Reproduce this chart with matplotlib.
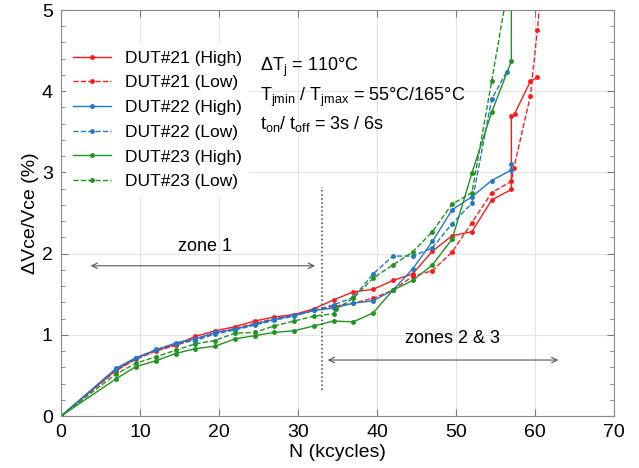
import matplotlib
matplotlib.use('Agg')
from matplotlib import pyplot as plt
from matplotlib.ticker import MultipleLocator

plt.rcParams['font.family'] = ['Liberation Sans', 'DejaVu Sans']
plt.rcParams['mathtext.fontset'] = 'custom'
plt.rcParams['mathtext.rm'] = 'Liberation Sans'
plt.rcParams['mathtext.it'] = 'Liberation Sans'

# kcycles and dVce/Vce (%) for each DUT, high and low current measurement
n_21h = [0, 7, 9.5, 12, 14.5, 17, 19.5, 22, 24.5, 27, 29.5, 32, 34.5, 37, 39.5, 42, 44.5, 47, 49.5, 52, 54.5, 57, 57, 57.4, 59.4, 60.3]
v_21h = [0, 0.57, 0.71, 0.81, 0.88, 0.98, 1.05, 1.10, 1.17, 1.22, 1.25, 1.32, 1.43, 1.53, 1.56, 1.67, 1.75, 2.03, 2.22, 2.27, 2.66, 2.79, 3.69, 3.72, 4.12, 4.17]

n_21l = [0, 7, 9.5, 12, 14.5, 17, 19.5, 22, 24.5, 27, 29.5, 32, 34.5, 37, 39.5, 42, 44.5, 47, 49.5, 52, 54.5, 57, 57.3, 59.4, 60.3, 60.8]
v_21l = [0, 0.56, 0.70, 0.80, 0.87, 0.95, 1.02, 1.08, 1.14, 1.20, 1.25, 1.30, 1.35, 1.39, 1.45, 1.55, 1.72, 1.79, 2.02, 2.38, 2.75, 2.89, 3.05, 3.94, 4.76, 5.3]

n_22h = [0, 7, 9.5, 12, 14.5, 17, 19.5, 22, 24.5, 27, 29.5, 32, 34.5, 37, 39.5, 42, 44.5, 47, 49.5, 52, 54.5, 57, 57]
v_22h = [0, 0.59, 0.72, 0.81, 0.90, 0.95, 1.03, 1.07, 1.13, 1.19, 1.24, 1.30, 1.33, 1.39, 1.42, 1.55, 1.81, 2.15, 2.54, 2.70, 2.90, 3.03, 3.10]

n_22l = [0, 7, 9.5, 12, 14.5, 17, 19.5, 22, 24.5, 27, 29.5, 32, 34.5, 37, 39.5, 42, 44.5, 47, 49.5, 52, 54.5, 56.4]
v_22l = [0, 0.58, 0.71, 0.82, 0.89, 0.93, 1.01, 1.06, 1.12, 1.18, 1.23, 1.30, 1.37, 1.46, 1.75, 1.97, 1.97, 2.07, 2.37, 2.62, 3.90, 4.24]

n_23h = [0, 7, 9.5, 12, 14.5, 17, 19.5, 22, 24.5, 27, 29.5, 32, 34.5, 37, 39.5, 42, 44.5, 47, 49.5, 52, 54.5, 57, 57]
v_23h = [0, 0.46, 0.61, 0.68, 0.77, 0.83, 0.86, 0.95, 0.99, 1.03, 1.05, 1.11, 1.17, 1.16, 1.27, 1.55, 1.67, 1.86, 2.18, 2.99, 3.74, 4.37, 5.3]

n_23l = [0, 7, 9.5, 12, 14.5, 17, 19.5, 22, 24.5, 27, 29.5, 32, 34.5, 34.8, 37, 39.5, 42, 44.5, 47, 49.5, 52, 54.5, 56.6]
v_23l = [0, 0.52, 0.65, 0.73, 0.81, 0.89, 0.93, 1.02, 1.03, 1.11, 1.17, 1.23, 1.26, 1.32, 1.45, 1.70, 1.86, 2.02, 2.27, 2.61, 2.75, 4.12, 5.3]

red = '#ff1a1a'
blue = '#1f78c8'
green = '#1e961e'

fig = plt.figure(figsize=(6.39, 4.68), dpi=100)
ax = fig.add_axes([0.0955, 0.111, 0.8655, 0.8676])

ax.plot(n_21h, v_21h, color=red, linestyle='-', marker='.', markersize=5, lw=1.0, label='DUT#21 (High)')
ax.plot(n_21l, v_21l, color=red, linestyle='--', marker='.', markersize=5, lw=1.0, label='DUT#21 (Low)')
ax.plot(n_22h, v_22h, color=blue, linestyle='-', marker='.', markersize=5, lw=1.0, label='DUT#22 (High)')
ax.plot(n_22l, v_22l, color=blue, linestyle='--', marker='.', markersize=5, lw=1.0, label='DUT#22 (Low)')
ax.plot(n_23h, v_23h, color=green, linestyle='-', marker='.', markersize=5, lw=1.0, label='DUT#23 (High)')
ax.plot(n_23l, v_23l, color=green, linestyle='--', marker='.', markersize=5, lw=1.0, label='DUT#23 (Low)')

ax.set_xlim(0, 70)
ax.set_ylim(0, 5)
ax.xaxis.set_major_locator(MultipleLocator(10))
ax.yaxis.set_major_locator(MultipleLocator(1))
ax.yaxis.set_minor_locator(MultipleLocator(0.2))
ax.grid(True, which='major', color='#e4e4e4', lw=0.8)
ax.tick_params(which='both', direction='in', top=True, right=True, colors='#7a7a7a', labelcolor='black', labelsize=14)
ax.tick_params(which='major', length=5, pad=6)
ax.tick_params(which='minor', length=3)
for s in ax.spines.values():
    s.set_color('#8a8a8a')

ax.set_xlabel('N (kcycles)', fontsize=14, labelpad=2)
ax.set_ylabel('ΔVce/Vce (%)', fontsize=14, labelpad=2)

leg = ax.legend(loc='upper left', bbox_to_anchor=(0.0, 0.93), fontsize=12.5, frameon=True,
                edgecolor='none', framealpha=1, handlelength=2.2, labelspacing=0.55, borderaxespad=0.3)

ax.text(25.2, 4.29, r'$\Delta$T$_\mathregular{j}$ = 110°C', fontsize=13, va='center')
ax.text(25.2, 3.93, r'T$_\mathregular{jmin}$ / T$_\mathregular{jmax}$ = 55°C/165°C', fontsize=13, va='center')
ax.text(25.2, 3.60, r't$_\mathregular{on}$/ t$_\mathregular{off}$ = 3s / 6s', fontsize=13, va='center')

ax.plot([33, 33], [0.32, 2.82], color='#444444', linestyle=':', lw=1.1)
ax.annotate('', xy=(3.4, 1.85), xytext=(32.5, 1.85),
            arrowprops=dict(arrowstyle='<->', color='#555555', lw=0.8))
ax.text(18.2, 2.09, 'zone 1', fontsize=13, ha='center', va='center')
ax.annotate('', xy=(33.4, 0.69), xytext=(63.3, 0.69),
            arrowprops=dict(arrowstyle='<->', color='#555555', lw=0.8))
ax.text(49.6, 0.95, 'zones 2 & 3', fontsize=13, ha='center', va='center')

fig.savefig('out.png', dpi=100)
